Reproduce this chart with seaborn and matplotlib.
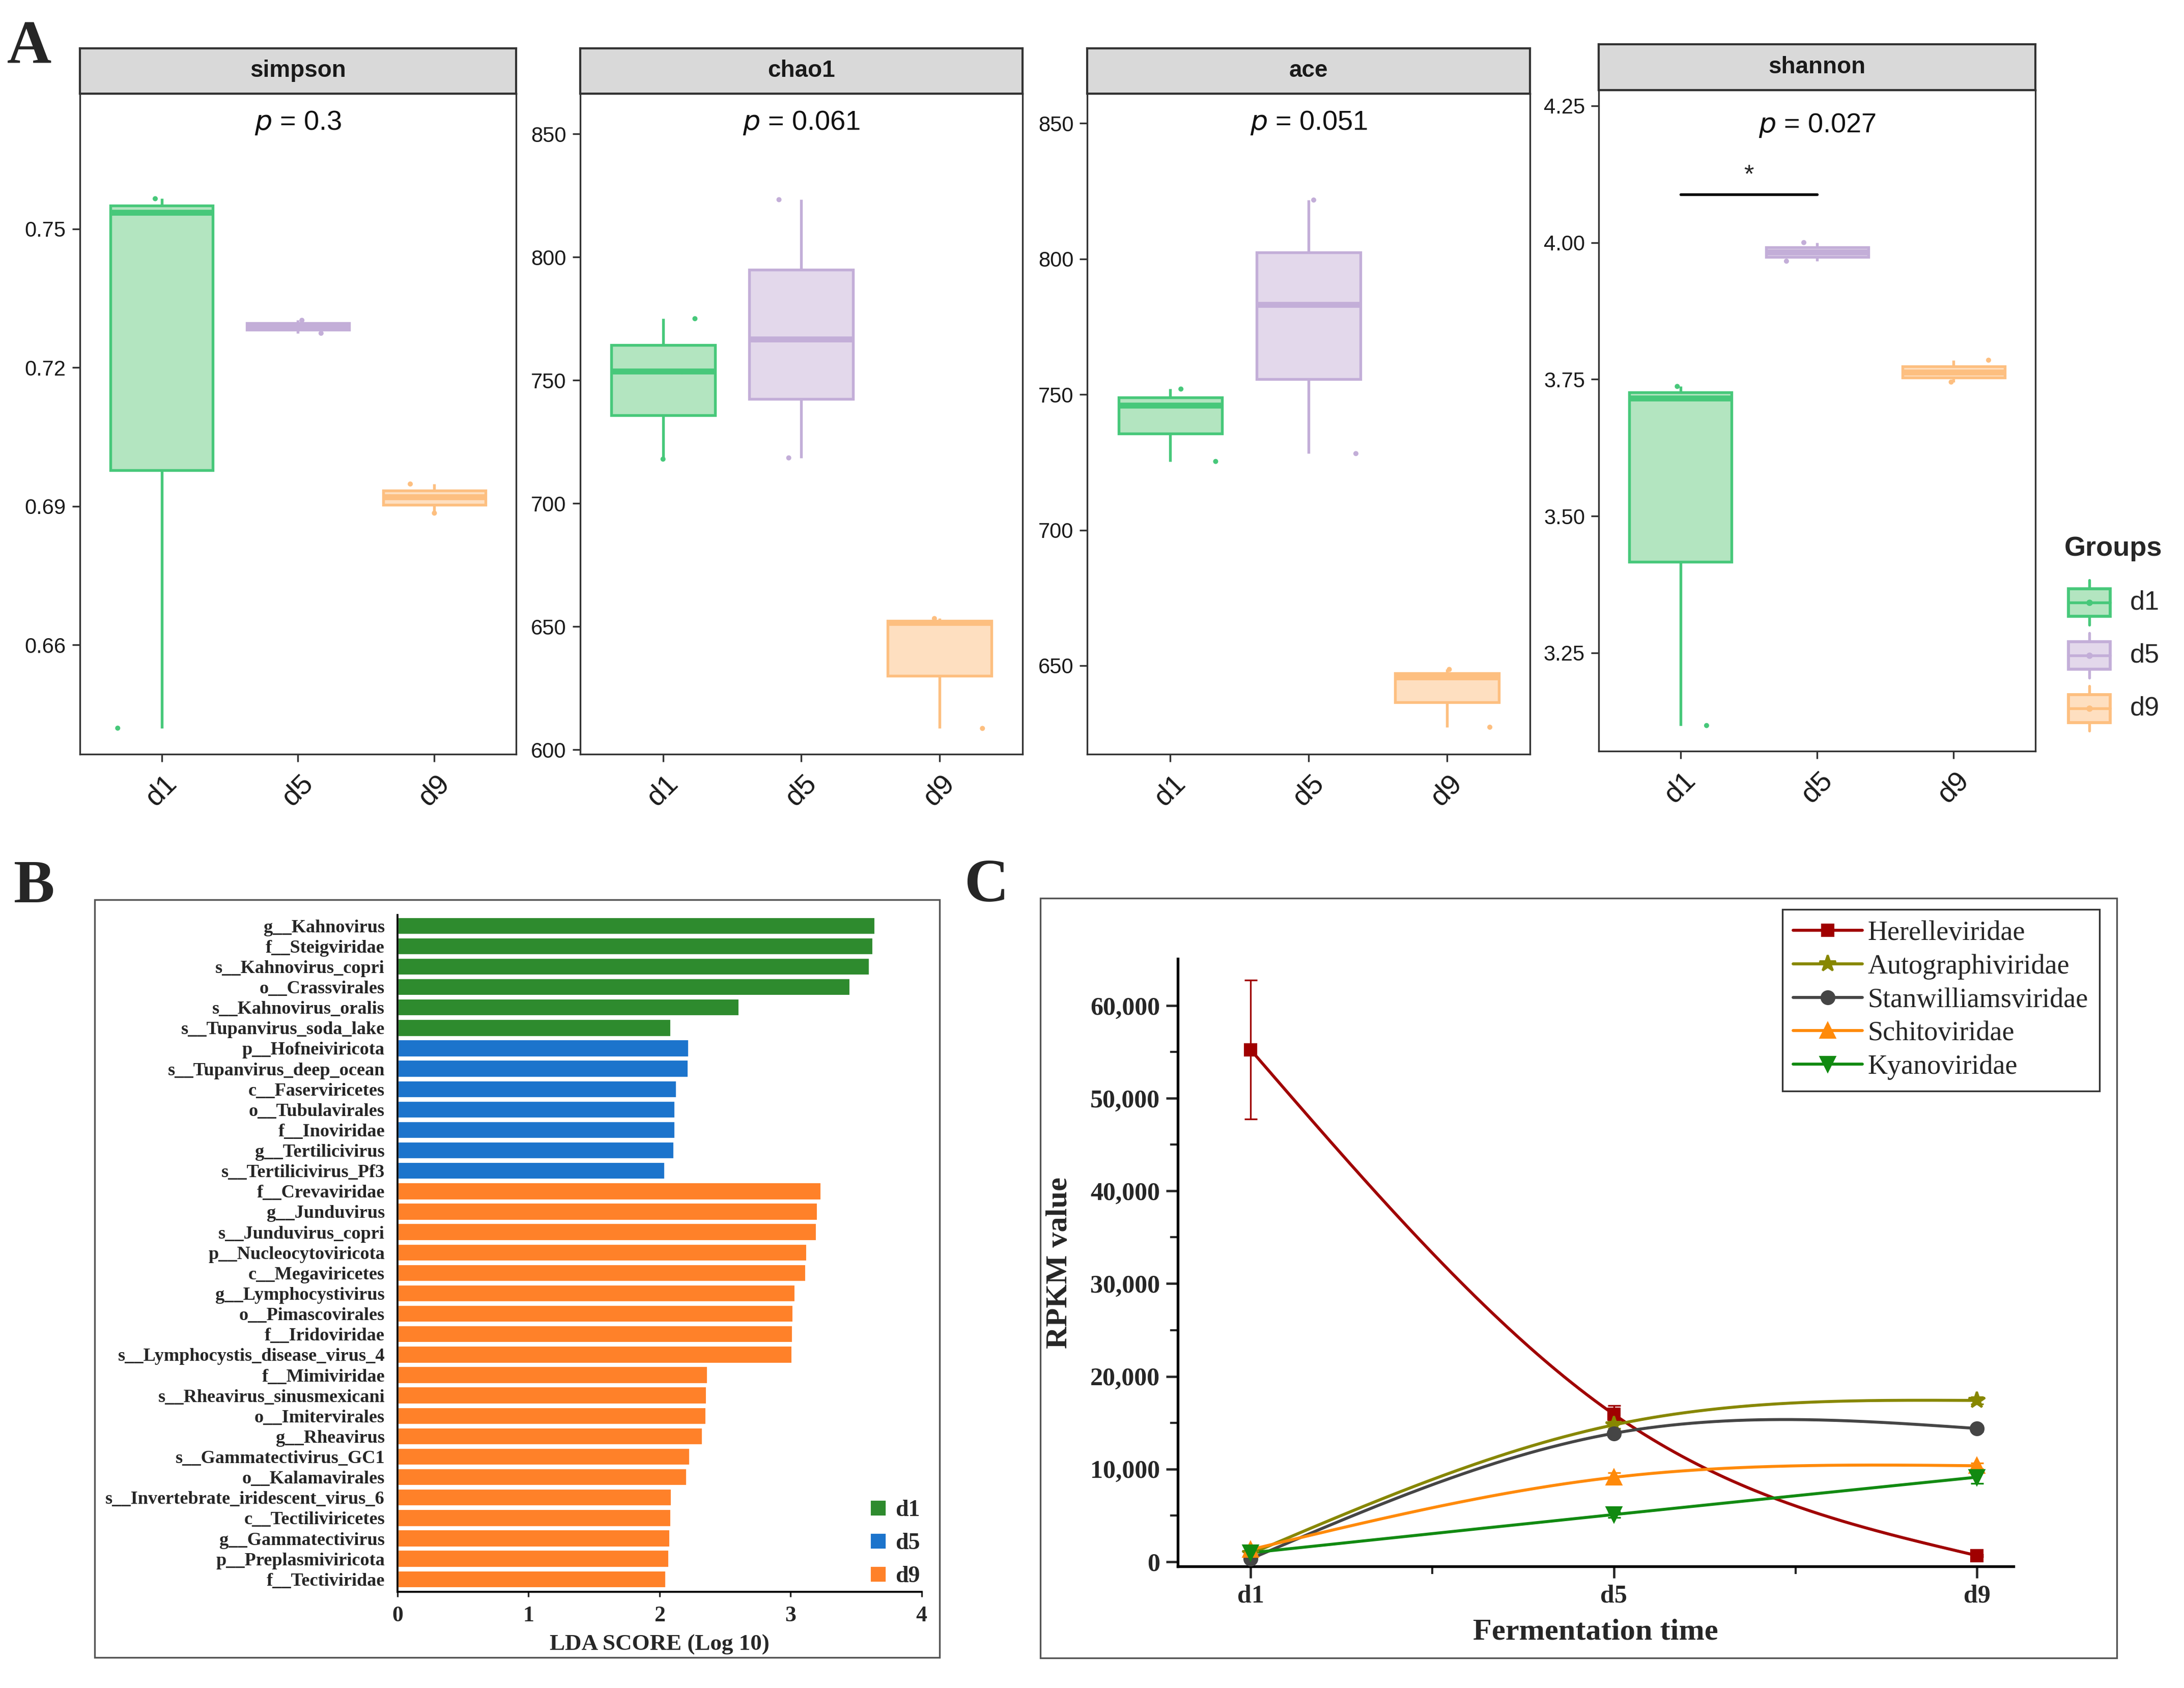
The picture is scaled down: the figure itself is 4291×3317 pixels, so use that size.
import numpy as np
import pandas as pd
import matplotlib
matplotlib.use("Agg")
import matplotlib.pyplot as plt
import seaborn as sns
from matplotlib.patches import Rectangle
from matplotlib.lines import Line2D
from matplotlib.ticker import FuncFormatter

# ---------------- panel A: alpha diversity, 3 samples per group ----------------
groups = ["d1", "d5", "d9"]
metrics = ["simpson", "chao1", "ace", "shannon"]

simpson_d1 = [0.642, 0.7535, 0.7565]
simpson_d5 = [0.7274, 0.7289, 0.7302]
simpson_d9 = [0.6885, 0.6920, 0.6948]
chao1_d1 = [718.0, 753.5, 775.0]
chao1_d5 = [718.5, 766.5, 823.3]
chao1_d9 = [608.7, 651.5, 653.3]
ace_d1 = [725.3, 745.9, 752.0]
ace_d5 = [728.2, 783.0, 821.7]
ace_d9 = [627.3, 645.7, 648.6]
shannon_d1 = [3.117, 3.715, 3.737]
shannon_d5 = [3.966, 3.982, 4.000]
shannon_d9 = [3.745, 3.762, 3.785]

p_values = ["0.3", "0.061", "0.051", "0.027"]
yticks_simpson = [0.66, 0.69, 0.72, 0.75]
yticks_chao1 = [600, 650, 700, 750, 800, 850]
yticks_ace = [650, 700, 750, 800, 850]
yticks_shannon = [3.25, 3.50, 3.75, 4.00, 4.25]

# ---------------- panel B: LEfSe ----------------
lda_features = [
    "g__Kahnovirus", "f__Steigviridae", "s__Kahnovirus_copri", "o__Crassvirales",
    "s__Kahnovirus_oralis", "s__Tupanvirus_soda_lake",
    "p__Hofneiviricota", "s__Tupanvirus_deep_ocean", "c__Faserviricetes",
    "o__Tubulavirales", "f__Inoviridae", "g__Tertilicivirus", "s__Tertilicivirus_Pf3",
    "f__Crevaviridae", "g__Junduvirus", "s__Junduvirus_copri", "p__Nucleocytoviricota",
    "c__Megaviricetes", "g__Lymphocystivirus", "o__Pimascovirales", "f__Iridoviridae",
    "s__Lymphocystis_disease_virus_4", "f__Mimiviridae", "s__Rheavirus_sinusmexicani",
    "o__Imitervirales", "g__Rheavirus", "s__Gammatectivirus_GC1", "o__Kalamavirales",
    "s__Invertebrate_iridescent_virus_6", "c__Tectiliviricetes", "g__Gammatectivirus",
    "p__Preplasmiviricota", "f__Tectiviridae",
]
lda_scores = [
    3.646, 3.630, 3.605, 3.455, 2.610, 2.090,
    2.227, 2.223, 2.131, 2.119, 2.119, 2.114, 2.044,
    3.234, 3.209, 3.201, 3.126, 3.118, 3.039, 3.022, 3.018, 3.014,
    2.368, 2.360, 2.356, 2.331, 2.235, 2.210, 2.094, 2.090, 2.081, 2.073, 2.052,
]
lda_groups = ["d1"] * 6 + ["d5"] * 7 + ["d9"] * 20

# ---------------- panel C: RPKM over fermentation time ----------------
families = ["Herelleviridae", "Autographiviridae", "Stanwilliamsviridae", "Schitoviridae", "Kyanoviridae"]
rpkm_herelle = [55250, 15900, 650]
rpkm_autograph = [850, 14760, 17400]
rpkm_stanwill = [300, 13850, 14370]
rpkm_schito = [1300, 9100, 10350]
rpkm_kyano = [950, 5080, 9120]
err_herelle = [7500, 950, 100]
err_autograph = [200, 400, 400]
err_stanwill = [200, 300, 300]
err_schito = [300, 500, 300]
err_kyano = [200, 300, 700]

# ---------------- styling ----------------
W, H = 1568, 1212  # layout grid of the reference (pixels at 1/2.737 scale)
SANS = "Liberation Sans"
SERIF = "Liberation Serif"

box_edge = {"d1": "#47C87A", "d5": "#C3AED8", "d9": "#FDBF80"}
box_fill = {"d1": "#B3E5C0", "d5": "#E3D8EB", "d9": "#FEDFC0"}
lda_pal = {"d1": "#2E8B2E", "d5": "#1C74CC", "d9": "#FF8129"}
fam_style = {
    "Herelleviridae": ("#A00000", "s", 5.5),
    "Autographiviridae": ("#878700", "*", 8),
    "Stanwilliamsviridae": ("#454545", "o", 6),
    "Schitoviridae": ("#FF8A0A", "^", 6.5),
    "Kyanoviridae": ("#118A11", "v", 6.5),
}


def rect(l, t, r, b):
    return [l / W, 1 - b / H, (r - l) / W, (b - t) / H]


def natural_spline(x, y, n=200):
    # natural cubic spline through the points, as drawn by the original software
    x = np.asarray(x, float)
    y = np.asarray(y, float)
    h = np.diff(x)
    k = len(x)
    A = np.zeros((k, k))
    rhs = np.zeros(k)
    A[0, 0] = A[-1, -1] = 1
    for i in range(1, k - 1):
        A[i, i - 1] = h[i - 1]
        A[i, i] = 2 * (h[i - 1] + h[i])
        A[i, i + 1] = h[i]
        rhs[i] = 6 * ((y[i + 1] - y[i]) / h[i] - (y[i] - y[i - 1]) / h[i - 1])
    M = np.linalg.solve(A, rhs)
    xs = np.linspace(x[0], x[-1], n)
    idx = np.clip(np.searchsorted(x, xs) - 1, 0, k - 2)
    x0, x1 = x[idx], x[idx + 1]
    hh = x1 - x0
    ys = (M[idx] * (x1 - xs) ** 3 / (6 * hh) + M[idx + 1] * (xs - x0) ** 3 / (6 * hh)
          + (y[idx] / hh - M[idx] * hh / 6) * (x1 - xs)
          + (y[idx + 1] / hh - M[idx + 1] * hh / 6) * (xs - x0))
    return xs, ys


sns.set_style("ticks")
plt.rcParams["font.family"] = [SANS, "DejaVu Sans"]
np.random.seed(7)

fig = plt.figure(figsize=(4291 / 300, 3317 / 300), dpi=300)

# ================= A =================
alpha_values = {
    "simpson": [simpson_d1, simpson_d5, simpson_d9],
    "chao1": [chao1_d1, chao1_d5, chao1_d9],
    "ace": [ace_d1, ace_d5, ace_d9],
    "shannon": [shannon_d1, shannon_d5, shannon_d9],
}
rows = []
for m in metrics:
    for g, vals in zip(groups, alpha_values[m]):
        for v in vals:
            rows.append({"metric": m, "group": g, "value": v})
alpha_df = pd.DataFrame(rows)

yticks = {"simpson": yticks_simpson, "chao1": yticks_chao1, "ace": yticks_ace, "shannon": yticks_shannon}
yfmt = {"simpson": "{:.2f}", "chao1": "{:.0f}", "ace": "{:.0f}", "shannon": "{:.2f}"}
ylims = {"simpson": (0.6364, 0.7792), "chao1": (598.3, 866.3), "ace": (617.4, 860.9), "shannon": (3.070, 4.279)}
panel_pos = {
    "simpson": (57.3, 34.6, 67.3, 370.5, 541.4),
    "chao1": (416.5, 34.6, 67.3, 734.0, 541.4),
    "ace": (780.7, 34.6, 67.3, 1098.3, 541.4),
    "shannon": (1147.8, 31.9, 64.6, 1461.3, 539.4),
}
p_ypos = {"simpson": 0.956, "chao1": 0.956, "ace": 0.956, "shannon": 0.946}

for m, p in zip(metrics, p_values):
    l, st, t, r, b = panel_pos[m]
    ax = fig.add_axes(rect(l, t, r, b))
    sub = alpha_df[alpha_df["metric"] == m]
    for g in groups:
        sns.boxplot(data=sub[sub["group"] == g], x="group", y="value", order=groups,
                    color=box_fill[g], linecolor=box_edge[g], saturation=1, width=0.75,
                    linewidth=1.3, showcaps=False, showfliers=False,
                    medianprops={"linewidth": 2.8}, ax=ax)
    sns.stripplot(data=sub, x="group", y="value", order=groups, hue="group",
                  hue_order=groups, palette=box_edge, jitter=0.38, size=2.4,
                  legend=False, ax=ax, zorder=5)
    ax.set_xlim(-0.6, 2.6)
    ax.set_ylim(*ylims[m])
    ax.set_yticks(yticks[m])
    ax.set_yticklabels([yfmt[m].format(v) for v in yticks[m]])
    ax.set_xlabel("")
    ax.set_ylabel("")
    for s in ax.spines.values():
        s.set_visible(True)
        s.set_color("#333333")
        s.set_linewidth(0.8)
    ax.tick_params(axis="y", length=3.5, width=0.8, color="#333333", pad=3,
                   labelsize=10, labelcolor="#1a1a1a")
    ax.tick_params(axis="x", length=3.5, width=0.8, color="#333333", pad=4,
                   labelsize=13.5, labelcolor="#1a1a1a")
    for lab in ax.get_xticklabels():
        lab.set_rotation(45)
        lab.set_ha("center")
        lab.set_va("top")
    ax.text(0.5, p_ypos[m], r"$\it{p}$ = " + p, transform=ax.transAxes, ha="center",
            va="center", fontsize=13, color="#111111")

    sax = fig.add_axes(rect(l, st, r, t))
    sax.set_facecolor("#D9D9D9")
    sax.set_xticks([])
    sax.set_yticks([])
    for s in sax.spines.values():
        s.set_color("#333333")
        s.set_linewidth(1.0)
    sax.text(0.5, 0.5, m, ha="center", va="center", fontsize=11, fontweight="bold",
             color="#1a1a1a", transform=sax.transAxes)

    if m == "shannon":
        vals = sub["value"]
        ybar = vals.max() + 0.1 * (vals.max() - vals.min())
        ax.plot([0, 1], [ybar, ybar], color="black", lw=1.3)
        ax.text(0.5, ybar + 0.012, "*", ha="center", va="bottom", fontsize=12)

# legend for A (box glyphs)
lax = fig.add_axes(rect(1476, 375, 1568, 530))
lax.set_xlim(1476, 1568)
lax.set_ylim(530, 375)
lax.axis("off")
lax.text(1482, 394, "Groups", fontsize=13, fontweight="bold", va="center", ha="left")
for g, cy in zip(groups, [432.6, 470.6, 508.7]):
    lax.plot([1500, 1500], [cy - 16, cy + 16], color=box_edge[g], lw=1.3)
    lax.add_patch(Rectangle((1485, cy - 10), 30, 20, facecolor=box_fill[g],
                            edgecolor=box_edge[g], lw=1.4, zorder=3))
    lax.plot([1485, 1515], [cy, cy], color=box_edge[g], lw=1.3, zorder=4)
    lax.plot([1500], [cy], "o", color=box_edge[g], ms=2, zorder=5)
    lax.text(1529, cy, g, fontsize=12.5, va="center", ha="left")

# ================= B =================
axB = fig.add_axes(rect(285.4, 657.1, 661.7, 1143.0))
lda_df = pd.DataFrame({"feature": lda_features, "score": lda_scores, "group": lda_groups})
sns.barplot(data=lda_df, x="score", y="feature", hue="group", order=lda_features,
            hue_order=groups, palette=lda_pal, dodge=False, width=0.88, saturation=1,
            legend=False, ax=axB)
axB.set_xlim(0, 4)
axB.set_ylim(32.62, -0.52)
axB.set_xticks([0, 1, 2, 3, 4])
axB.set_xlabel("LDA SCORE (Log 10)", fontsize=10.8, fontweight="bold", family=SERIF, labelpad=4)
axB.set_ylabel("")
for s in ["top", "right"]:
    axB.spines[s].set_visible(False)
for s in ["left", "bottom"]:
    axB.spines[s].set_color("black")
    axB.spines[s].set_linewidth(0.9)
axB.tick_params(axis="y", length=0, pad=6)
axB.tick_params(axis="x", length=2.5, width=0.8, pad=4)
for lab in axB.get_yticklabels():
    lab.set_family(SERIF)
    lab.set_fontweight("bold")
    lab.set_fontsize(8.7)
for lab in axB.get_xticklabels():
    lab.set_family(SERIF)
    lab.set_fontweight("bold")
    lab.set_fontsize(10.5)
handlesB = [Line2D([0], [0], marker="s", ls="", color=lda_pal[g], ms=6) for g in groups]
axB.legend(handlesB, groups, loc="upper left", bbox_to_anchor=(617 / W, 1 - 1070 / H),
           bbox_transform=fig.transFigure, frameon=False, handlelength=0.8,
           handletextpad=0.35, labelspacing=0.5, borderaxespad=0,
           prop={"family": SERIF, "weight": "bold", "size": 11})

# ================= C =================
axC = fig.add_axes(rect(845.7, 688.4, 1445.5, 1124.8))
xpos = np.arange(len(groups))
fam_values = [rpkm_herelle, rpkm_autograph, rpkm_stanwill, rpkm_schito, rpkm_kyano]
fam_errs = [err_herelle, err_autograph, err_stanwill, err_schito, err_kyano]
handlesC = []
for fam, vals, errs in zip(families, fam_values, fam_errs):
    col, mk, ms = fam_style[fam]
    xs, ys = natural_spline(xpos, vals)
    sns.lineplot(x=xs, y=ys, color=col, lw=1.4, ax=axC, sort=False, zorder=2)
    axC.errorbar(xpos, vals, yerr=errs, fmt=mk, color=col, ms=ms, elinewidth=0.8,
                 capsize=3, capthick=0.8, zorder=3)
    handlesC.append(Line2D([0], [0], color=col, marker=mk, lw=1.4, ms=ms))
axC.set_xlim(-0.2, 2.1)
axC.set_ylim(-530, 65065)
axC.set_xticks(xpos)
axC.set_xticklabels(groups)
axC.set_xticks([0.5, 1.5], minor=True)
axC.set_yticks(np.arange(0, 60001, 10000))
axC.set_yticks(np.arange(5000, 60001, 10000), minor=True)
axC.yaxis.set_major_formatter(FuncFormatter(lambda v, _: f"{int(v):,}"))
for s in ["top", "right"]:
    axC.spines[s].set_visible(False)
for s in ["left", "bottom"]:
    axC.spines[s].set_color("black")
    axC.spines[s].set_linewidth(1.3)
axC.tick_params(which="major", length=5.5, width=1.1, direction="out", pad=3)
axC.tick_params(which="minor", length=3.5, width=1.0, direction="out")
for lab in axC.get_xticklabels() + axC.get_yticklabels():
    lab.set_family(SERIF)
    lab.set_fontweight("bold")
    lab.set_fontsize(12)
axC.set_xlabel("Fermentation time", family=SERIF, fontweight="bold", fontsize=14.5, labelpad=5)
axC.set_ylabel("RPKM value", family=SERIF, fontweight="bold", fontsize=14.5, labelpad=8)
leg = axC.legend(handlesC, families, loc="upper right", bbox_to_anchor=(1507.2 / W, 1 - 653 / H),
                 bbox_transform=fig.transFigure, frameon=True, fancybox=False,
                 handlelength=2.5, handletextpad=0.2, labelspacing=0.28,
                 borderaxespad=0, borderpad=0.4,
                 prop={"family": SERIF, "size": 13})
leg.get_frame().set_edgecolor("black")
leg.get_frame().set_linewidth(0.8)

# panel frames and letters
for (l, t, r, b) in [(67.8, 645.9, 674.6, 1190.2), (747.0, 644.9, 1519.7, 1190.4)]:
    fig.patches.append(Rectangle((l / W, 1 - b / H), (r - l) / W, (b - t) / H,
                                 transform=fig.transFigure, fill=False,
                                 edgecolor="#555555", lw=0.8))
for letter, x, y in [("A", 5, 45), ("B", 10, 648), ("C", 692, 647)]:
    fig.text(x / W, 1 - y / H, letter, family=SERIF, fontweight="bold", fontsize=29,
             ha="left", va="baseline")

fig.savefig("out.png", dpi=300)
